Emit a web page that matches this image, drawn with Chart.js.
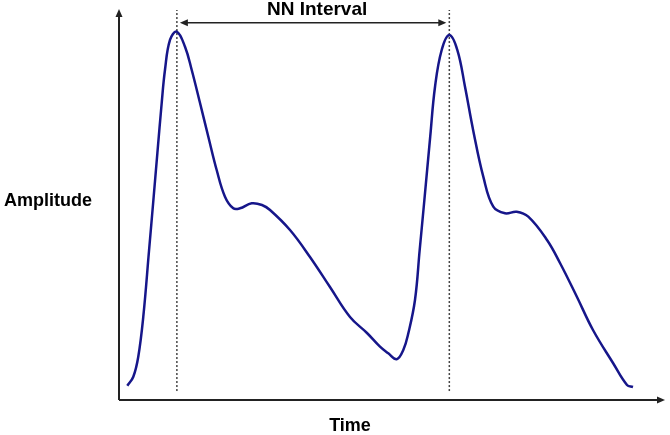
<!DOCTYPE html>
<html>
<head>
<meta charset="utf-8">
<script src="https://cdn.jsdelivr.net/npm/chart.js@4"></script>
<style>
  body { margin: 0; background: #fff; }
</style>
</head>
<body>
<canvas id="ppgChart" width="670" height="435"></canvas>
<script>
// pulse waveform (time and amplitude in arbitrary units)
const timeValues = [1.52, 2.62, 3.53, 4.45, 5.51, 6.30, 7.03, 7.82, 8.42, 9.34, 10.57, 12.09, 13.32, 14.84, 16.36, 17.89, 19.41, 20.93, 22.16, 24.30, 26.19, 27.66, 31.32, 34.98, 38.64, 42.31, 45.42, 47.80, 49.32, 50.86, 52.07, 52.99, 54.21, 55.07, 55.93, 57.00, 57.88, 59.10, 60.50, 61.97, 63.37, 64.89, 66.72, 68.55, 70.70, 72.84, 74.96, 78.39, 80.77, 83.88, 86.81, 90.48, 93.04, 94.14];
const amplitudeValues = [3.67, 5.97, 11.10, 21.36, 38.46, 51.28, 63.33, 76.15, 84.62, 92.31, 94.44, 90.59, 84.62, 76.15, 67.51, 58.97, 52.13, 49.15, 49.15, 50.44, 50.00, 48.72, 43.59, 36.67, 28.97, 21.28, 17.18, 13.67, 11.97, 10.44, 12.82, 17.10, 25.64, 38.46, 51.28, 67.51, 80.33, 89.74, 93.59, 89.74, 80.33, 69.00, 57.26, 49.56, 47.87, 48.28, 47.00, 41.03, 35.13, 26.41, 17.95, 9.49, 3.85, 3.33];
const peakTimes = [10.6, 60.5];
const intervalLabel = "NN Interval";
const xLabel = "Time";
const yLabel = "Amplitude";

const wave = timeValues.map((t, i) => ({ x: t, y: amplitudeValues[i] }));

function arrowHead(ctx, x, y, dir) {
  // dir: "up", "right", "left"
  ctx.beginPath();
  if (dir === "up") { ctx.moveTo(x, y); ctx.lineTo(x - 3.5, y + 8); ctx.lineTo(x + 3.5, y + 8); }
  if (dir === "right") { ctx.moveTo(x, y); ctx.lineTo(x - 8, y - 3.5); ctx.lineTo(x - 8, y + 3.5); }
  if (dir === "left") { ctx.moveTo(x, y); ctx.lineTo(x + 8, y - 3.5); ctx.lineTo(x + 8, y + 3.5); }
  ctx.closePath();
  ctx.fill();
}

const decorations = {
  id: "decorations",
  afterDraw(chart) {
    const ctx = chart.ctx;
    const area = chart.chartArea;
    const xs = chart.scales.x, ys = chart.scales.y;
    ctx.save();
    ctx.strokeStyle = "#222";
    ctx.fillStyle = "#222";
    ctx.lineWidth = 2;

    // axes with arrows
    ctx.beginPath();
    ctx.moveTo(area.left, area.bottom);
    ctx.lineTo(area.left, area.top + 2);
    ctx.moveTo(area.left, area.bottom);
    ctx.lineTo(area.right - 3, area.bottom);
    ctx.stroke();
    arrowHead(ctx, area.left, area.top - 1, "up");
    arrowHead(ctx, area.right, area.bottom, "right");

    // NN interval arrow between the two peaks
    const x1 = xs.getPixelForValue(peakTimes[0]) + 3;
    const x2 = xs.getPixelForValue(peakTimes[1]) - 3;
    const ya = ys.getPixelForValue(96.7);
    ctx.lineWidth = 1.5;
    ctx.beginPath();
    ctx.moveTo(x1 + 4, ya);
    ctx.lineTo(x2 - 4, ya);
    ctx.stroke();
    arrowHead(ctx, x1, ya, "left");
    arrowHead(ctx, x2, ya, "right");

    // texts
    ctx.fillStyle = "#000";
    ctx.textAlign = "center";
    ctx.textBaseline = "middle";
    ctx.font = "bold 19px 'Liberation Sans', Arial, sans-serif";
    ctx.fillText(intervalLabel, (x1 + x2) / 2 + 4, 10);
    ctx.font = "bold 18px 'Liberation Sans', Arial, sans-serif";
    ctx.fillText(xLabel, 350, 426);
    ctx.fillText(yLabel, 48, 201);
    ctx.restore();
  }
};

const markerSets = peakTimes.map(t => ({
  data: [{ x: t, y: 2.3 }, { x: t, y: 100 }],
  borderColor: "#444",
  borderWidth: 1.5,
  borderDash: [2, 2],
  pointRadius: 0,
  tension: 0
}));

new Chart(document.getElementById("ppgChart"), {
  type: "line",
  data: {
    datasets: [{
      label: "Amplitude",
      data: wave,
      borderColor: "#16168a",
      borderWidth: 2.5,
      pointRadius: 0,
      tension: 0.4
    }, ...markerSets]
  },
  options: {
    responsive: false,
    animation: false,
    layout: { padding: { left: 119, right: 5, top: 10, bottom: 35 } },
    plugins: { legend: { display: false }, tooltip: { enabled: false } },
    scales: {
      x: { type: "linear", min: 0, max: 100, display: false },
      y: { min: 0, max: 100, display: false }
    }
  },
  plugins: [decorations]
});
</script>
</body>
</html>
